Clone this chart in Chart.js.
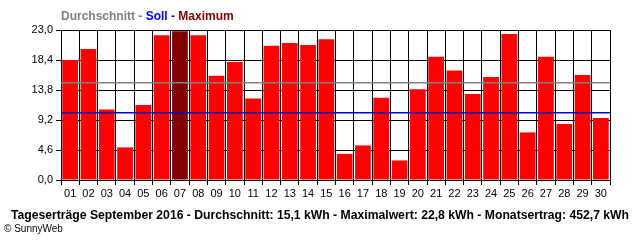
<!DOCTYPE html>
<html>
<head>
<meta charset="utf-8">
<script src="https://cdn.jsdelivr.net/npm/chart.js@4"></script>
<style>
  html, body { margin: 0; padding: 0; background: #fff; }
  #wrap { width: 640px; height: 240px; position: relative; }
</style>
</head>
<body>
<div id="wrap"><canvas id="chart" width="640" height="240"></canvas></div>
<script>
// Tageserträge September 2016
const days = ["01","02","03","04","05","06","07","08","09","10","11","12","13","14","15",
              "16","17","18","19","20","21","22","23","24","25","26","27","28","29","30"];
const ertrag = [18.4, 20.1, 10.8, 5.0, 11.5, 22.2, 22.8, 22.2, 16.0, 18.1, 12.5, 20.6, 21.0, 20.7, 21.6,
                4.0, 5.3, 12.6, 3.0, 13.9, 18.9, 16.8, 13.2, 15.8, 22.4, 7.3, 18.9, 8.6, 16.1, 9.5];
const durchschnitt = 14.9;
const soll = 10.3;
const yTicks = [0, 4.6, 9.2, 13.8, 18.4, 23.0];
const maxIndex = ertrag.indexOf(Math.max(...ertrag));

const fontName = "'Liberation Sans', Arial, sans-serif";

// Durchschnitt- und Soll-Linie über die ganze Breite, über den Balken
const linienPlugin = {
    id: 'linien',
    afterDatasetsDraw(chart) {
        const ctx = chart.ctx;
        const area = chart.chartArea;
        const y = chart.scales.y;
        ctx.save();
        ctx.lineWidth = 1.5;
        [[durchschnitt, '#808080'], [soll, '#0000cc']].forEach(([wert, farbe]) => {
            const py = y.getPixelForValue(wert);
            ctx.strokeStyle = farbe;
            ctx.beginPath();
            ctx.moveTo(area.left, py);
            ctx.lineTo(area.right, py);
            ctx.stroke();
        });
        ctx.restore();
    }
};

// Kopfzeile und Fußzeile als Text auf dem Canvas
const textPlugin = {
    id: 'texte',
    afterDraw(chart) {
        const ctx = chart.ctx;
        ctx.save();
        ctx.textBaseline = 'alphabetic';
        ctx.textAlign = 'left';
        ctx.font = 'bold 12px ' + fontName;
        const teile = [["Durchschnitt - ", "#808080"], ["Soll - ", "#0000ff"], ["Maximum", "#800000"]];
        let x = 61;
        teile.forEach(([t, farbe]) => {
            ctx.fillStyle = farbe;
            ctx.fillText(t, x, 20);
            x += ctx.measureText(t).width;
        });
        ctx.fillStyle = "#000";
        ctx.textAlign = 'center';
        ctx.font = 'bold 12.2px ' + fontName;
        ctx.fillText("Tageserträge September 2016 - Durchschnitt: 15,1 kWh - Maximalwert: 22,8 kWh - Monatsertrag: 452,7 kWh", 320, 219);
        ctx.textAlign = 'left';
        ctx.font = '10px ' + fontName;
        ctx.fillText("© SunnyWeb", 4, 232);
        ctx.restore();
    }
};

const ctx = document.getElementById("chart").getContext("2d");
new Chart(ctx, {
    type: 'bar',
    data: {
        labels: days,
        datasets: [{
            label: 'Ertrag',
            data: ertrag,
            backgroundColor: ertrag.map((v, i) => i === maxIndex ? '#800000' : '#ff0000'),
            borderWidth: 0,
            barPercentage: 0.86,
            categoryPercentage: 1.0
        }]
    },
    options: {
        responsive: false,
        animation: false,
        layout: { padding: { top: 30, right: 30, left: 0, bottom: 36 } },
        plugins: {
            legend: { display: false },
            tooltip: { enabled: false }
        },
        scales: {
            x: {
                offset: true,
                grid: { offset: true, color: '#000', lineWidth: 1, tickLength: 5, drawOnChartArea: true },
                border: { color: '#000', width: 1 },
                ticks: { color: '#000', font: { family: fontName, size: 11 }, padding: 2, maxRotation: 0, autoSkip: false },
                afterFit(scale) { scale.height = 24; }
            },
            y: {
                min: 0,
                max: 23,
                afterBuildTicks(scale) { scale.ticks = yTicks.map(v => ({ value: v })); },
                grid: { color: '#000', lineWidth: 1, tickLength: 5 },
                border: { color: '#000', width: 1 },
                ticks: {
                    color: '#000',
                    font: { family: fontName, size: 11 },
                    padding: 3,
                    callback: v => v.toFixed(1).replace('.', ',')
                },
                afterFit(scale) { scale.width = 61; }
            }
        }
    },
    plugins: [linienPlugin, textPlugin]
});
</script>
</body>
</html>
